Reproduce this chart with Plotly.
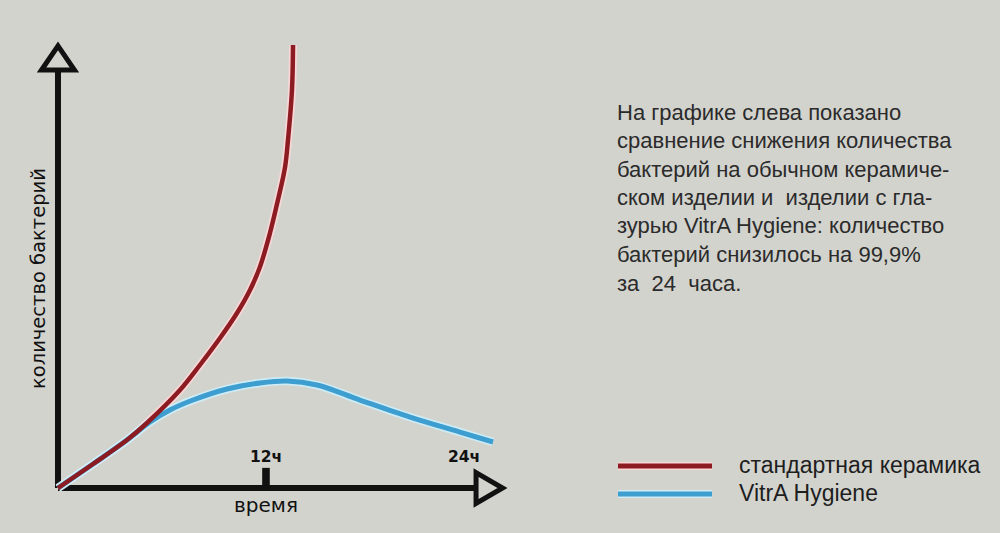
import plotly.graph_objects as go

# ---- data (hours vs. relative bacteria count) ----
standard_hours = [0, 2.02, 3.98, 5.13, 7.04, 8.19, 9.35, 10.33, 11.08, 11.65, 12.23, 12.69, 13.10, 13.27, 13.50, 13.56]
standard_count = [0, 5.36, 10.71, 14.51, 21.88, 27.46, 33.48, 39.06, 44.20, 49.33, 56.92, 64.29, 71.65, 77.68, 88.84, 98.88]

vitra_hours = [0, 2.02, 3.98, 5.31, 6.46, 7.79, 9.75, 11.65, 13.21, 14.94, 17.42, 20.31, 23.19, 25.10]
vitra_count = [0, 5.36, 10.71, 14.73, 17.41, 19.64, 22.10, 23.44, 23.88, 22.99, 19.64, 15.85, 12.50, 10.27]

tick_hours = [12, 24]
tick_labels = ["12ч", "24ч"]

series_names = ["стандартная керамика", "VitrA Hygiene"]
x_title = "время"
y_title = "количество бактерий"
description = [
    "На графике слева показано",
    "сравнение снижения количества",
    "бактерий на обычном керамиче-",
    "ском изделии и  изделии с гла-",
    "зурью VitrA Hygiene: количество",
    "бактерий снизилось на 99,9%",
    "за  24  часа.",
]

# ---- styling ----
BG = "#d3d3ce"
RED = "#8c1c22"
BLUE = "#3d9ecf"
INK = "#111111"
W, H = 1000, 533
X_RANGE = [-3.346, 54.35]
Y_RANGE = [-10.04, 108.93]
X_TIP = 25.65
Y_TIP = 98.7
SMOOTH = 1.0

fig = go.Figure()

# halos
fig.add_trace(go.Scatter(x=standard_hours, y=standard_count, mode="lines",
                         line=dict(color="rgba(255,215,215,0.85)", width=8, shape="spline", smoothing=SMOOTH),
                         hoverinfo="skip", showlegend=False))
fig.add_trace(go.Scatter(x=vitra_hours, y=vitra_count, mode="lines",
                         line=dict(color="rgba(205,240,252,0.85)", width=8.5, shape="spline", smoothing=SMOOTH),
                         hoverinfo="skip", showlegend=False))
fig.add_trace(go.Scatter(x=vitra_hours, y=vitra_count, mode="lines", name=series_names[1],
                         line=dict(color=BLUE, width=5, shape="spline", smoothing=SMOOTH),
                         showlegend=False))
fig.add_trace(go.Scatter(x=standard_hours, y=standard_count, mode="lines", name=series_names[0],
                         line=dict(color=RED, width=4.5, shape="spline", smoothing=SMOOTH),
                         showlegend=False))

shapes = []
# axis lines
shapes.append(dict(type="line", xref="x", yref="y", x0=0, y0=0, x1=24.15, y1=0,
                   line=dict(color=INK, width=6), layer="below"))
shapes.append(dict(type="line", xref="x", yref="y", x0=0, y0=0, x1=0, y1=93.3,
                   line=dict(color=INK, width=6), layer="below"))
# arrow heads (hollow triangles)
shapes.append(dict(type="path", xref="x", yref="y",
                   path=f"M 24.12 3.45 L {X_TIP} 0 L 24.12 -3.45 Z",
                   line=dict(color=INK, width=5), fillcolor=BG))
shapes.append(dict(type="path", xref="x", yref="y",
                   path=f"M -0.95 93.3 L 0 {Y_TIP} L 0.95 93.3 Z",
                   line=dict(color=INK, width=5), fillcolor=BG))
# 12h tick stub
shapes.append(dict(type="rect", xref="x", yref="y", x0=tick_hours[0] - 0.22, x1=tick_hours[0] + 0.22,
                   y0=0, y1=4.5, line=dict(width=0), fillcolor=INK))

# custom legend samples
for i, col in enumerate([RED, BLUE]):
    yp = 1 - (466 + 28 * i) / H
    halo = "rgba(255,215,215,0.9)" if i == 0 else "rgba(205,240,252,0.9)"
    shapes.append(dict(type="line", xref="paper", yref="paper", x0=0.618, x1=0.712, y0=yp, y1=yp,
                       line=dict(color=halo, width=8)))
    shapes.append(dict(type="line", xref="paper", yref="paper", x0=0.618, x1=0.712, y0=yp, y1=yp,
                       line=dict(color=col, width=5)))

annotations = []
for hv, lab in zip(tick_hours, tick_labels):
    annotations.append(dict(x=hv - (0.6 if hv == 24 else 0), y=7.0, xref="x", yref="y", text=f"<b>{lab}</b>",
                            showarrow=False, font=dict(family="DejaVu Sans", size=15.5, color=INK),
                            xanchor="center", yanchor="middle"))
annotations.append(dict(x=12, y=-3.8, xref="x", yref="y", text=x_title, showarrow=False,
                        font=dict(family="DejaVu Sans", size=20, color=INK),
                        xanchor="center", yanchor="middle"))
annotations.append(dict(x=38 / W, y=1 - 279 / H, xref="paper", yref="paper", text=y_title,
                        showarrow=False, textangle=-90,
                        font=dict(family="DejaVu Sans", size=19.5, color=INK),
                        xanchor="center", yanchor="middle"))
for i, line in enumerate(description):
    annotations.append(dict(x=615 / W, y=1 - (112 + 28.5 * i) / H, xref="paper", yref="paper",
                            text=line, showarrow=False, xanchor="left", yanchor="middle",
                            font=dict(family="Liberation Sans", size=22, color="#2b2b2b")))
for i, name in enumerate(series_names):
    annotations.append(dict(x=737 / W, y=1 - (465 + 28 * i) / H, xref="paper", yref="paper",
                            text=name, showarrow=False, xanchor="left", yanchor="middle",
                            font=dict(family="Liberation Sans", size=23, color="#1e1e1e")))

fig.update_layout(
    width=W, height=H,
    margin=dict(l=0, r=0, t=0, b=0),
    paper_bgcolor=BG, plot_bgcolor=BG,
    xaxis=dict(range=X_RANGE, visible=False, fixedrange=True),
    yaxis=dict(range=Y_RANGE, visible=False, fixedrange=True),
    shapes=shapes, annotations=annotations,
    showlegend=False,
)

fig.write_html("out.html",
               config={"displayModeBar": False, "staticPlot": True},
               post_script="document.body.style.margin='0';document.body.style.overflow='hidden';"
                           "document.body.style.background='" + BG + "';")
